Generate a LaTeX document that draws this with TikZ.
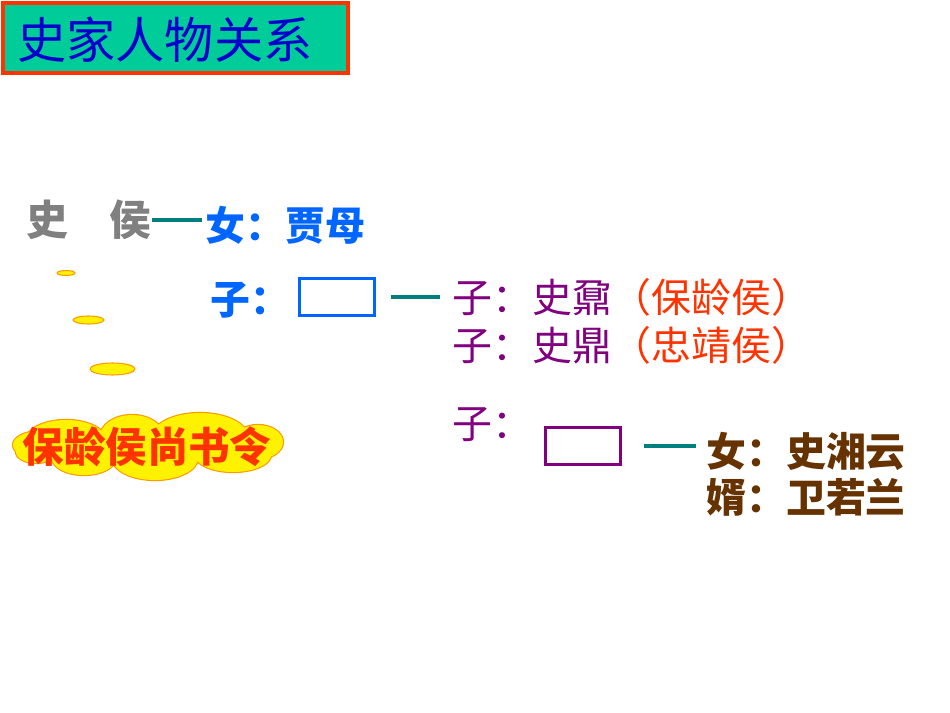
\documentclass[tikz,border=0pt]{standalone}
\usepackage{fontspec}
\newfontfamily\cjk{Noto Sans CJK SC}
\newcommand{\cjksize}[1]{\fontsize{#1}{#1}\selectfont}
\definecolor{titlefill}{HTML}{00CC99}
\definecolor{hotred}{HTML}{FF3300}
\definecolor{inkblue}{HTML}{0000CC}
\definecolor{skyblue}{HTML}{0066FF}
\definecolor{linkteal}{HTML}{007F7F}
\definecolor{plum}{HTML}{800080}
\definecolor{umber}{HTML}{663300}
\definecolor{goldrim}{HTML}{FF9900}
\begin{document}
\begin{tikzpicture}[x=0.02cm,y=-0.02cm,
  lbl/.style={anchor=west,inner sep=0pt,font=\cjk\cjksize{22.7pt}},
  heavy/.style={lbl,font=\cjk\bfseries\cjksize{22.7pt}},
  emptybox/.style={draw,line width=1.7pt,inner sep=0pt,
    minimum width=1.5cm,minimum height=0.75cm},
  tealline/.style={color=linkteal,line width=2pt},
  bubble/.style={draw=goldrim,fill=yellow,line width=0.6pt}]
  \useasboundingbox (0,0) rectangle (950,713);
  \fill[color=white] (0,0) rectangle (950,713);
  \draw[hotred,fill=titlefill,line width=2.3pt] (3,3) rectangle (348,73);
  \node[lbl,inkblue,font=\cjk\cjksize{28pt}] (title) at (17,40)
    {史家人物关系};
  \node[heavy,gray,font=\cjk\bfseries\cjksize{23.8pt}] (shi) at (26,220)
    {史　侯};
  \node[heavy,skyblue] (jiamu) at (205,225) {女：贾母};
  \node[heavy,skyblue] (sonlabel) at (210,300) {子：};
  \node[emptybox,skyblue] (boxa) at (337,297) {};
  \node[lbl,plum] (sona) at (452,297)
    {子：史鼐{\color{hotred}（保龄侯）}};
  \node[lbl,plum] (sonb) at (452,345)
    {子：史鼎{\color{hotred}（忠靖侯）}};
  \node[lbl,plum] (sonc) at (452,425) {子：};
  \node[emptybox,plum] (boxb) at (583,446) {};
  \node[heavy,umber] (daughter) at (706,451) {女：史湘云};
  \node[heavy,umber] (husband) at (706,497) {婿：卫若兰};
  \draw[tealline,shorten >=0.06cm] (shi.east) -- (shi.east -| jiamu.west);
  \draw[tealline,shorten <=0.3cm,shorten >=0.24cm]
    (boxa.east) -- (boxa.east -| sona.west);
  \draw[tealline,shorten <=0.44cm,shorten >=0.2cm]
    (boxb.east) -- (boxb.east -| daughter.west);
  \draw[bubble] (66,273) ellipse [x radius=0.18cm,y radius=0.05cm];
  \draw[bubble] (88.5,320) ellipse [x radius=0.31cm,y radius=0.08cm];
  \draw[bubble] (112.5,369) ellipse [x radius=0.45cm,y radius=0.12cm];
  \path[fill=yellow,preaction={draw=goldrim,line width=1.3pt}]
    (40,445) ellipse [x radius=0.54cm,y radius=0.28cm]
    (66,440) ellipse [x radius=0.8cm,y radius=0.4cm]
    (132,437) ellipse [x radius=0.64cm,y radius=0.44cm]
    (200,437) ellipse [x radius=0.96cm,y radius=0.48cm]
    (258,442) ellipse [x radius=0.5cm,y radius=0.34cm]
    (36,452) ellipse [x radius=0.4cm,y radius=0.22cm]
    (84,458) ellipse [x radius=0.64cm,y radius=0.34cm]
    (155,458) ellipse [x radius=0.86cm,y radius=0.44cm]
    (233,455) ellipse [x radius=0.76cm,y radius=0.34cm];
  \node[hotred,inner sep=0pt,font=\cjk\bfseries\cjksize{23.6pt}] (rank)
    at (147,447) {保龄侯尚书令};
\end{tikzpicture}
\end{document}
